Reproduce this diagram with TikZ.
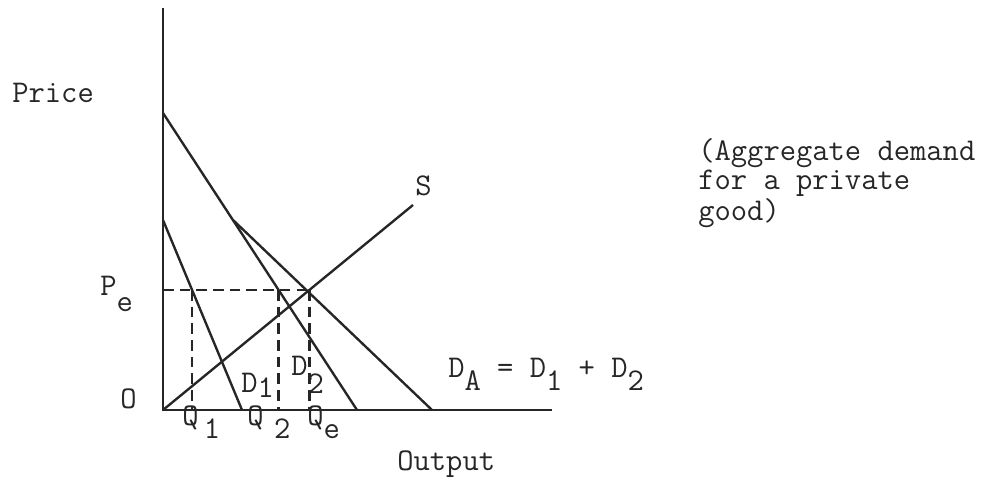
\documentclass[tikz,border=0pt]{standalone}
\usetikzlibrary{calc}
\newcommand{\dn}[2][0.27cm]{\raisebox{-#1}{#2}}

\begin{document}
\begin{tikzpicture}[
    curve/.style={line width=1.35pt, black!85},
    guide/.style={line width=1.25pt, black!85, dash pattern=on 6pt off 3.5pt},
    lbl/.style={font=\ttfamily\fontsize{18}{13.66}\selectfont, inner sep=0pt, anchor=base west, text=black!85}
]
\useasboundingbox (-3.26,-1.38) rectangle (16.84,8.2);

% === OSY ===

\coordinate (O) at (0,0);
\coordinate (ytop) at (0,8.04);
\coordinate (xend) at (7.78,0);
\draw[curve] (ytop) -- (O) -- (xend);

% === KRIVKY ===

\coordinate (d1top) at (0,3.8);
\coordinate (d1end) at (1.58,0);
\coordinate (d2top) at (0,5.94);
\coordinate (d2end) at (3.88,0);
\coordinate (kink) at (1.4,3.8);
\coordinate (daend) at (5.38,0);
\coordinate (send) at (5.0,4.1);

\draw[curve] (d1top) -- (d1end);
\draw[curve] (d2top) -- (d2end);
\draw[curve] (kink) -- (daend);
\draw[curve] (O) -- (send);

% === ROVNOVAHA ===

\coordinate (pe) at (0,2.4);
\coordinate (E) at (2.93,2.4);
\coordinate (q1) at (0.58,2.4);
\coordinate (q2) at (2.31,2.4);

\draw[guide] (pe) -- (E);
\draw[guide] (q1) -- (q1 |- O);
\draw[guide] (q2) -- (q2 |- O);
\draw[guide] (E) -- (E |- O);

% === POPISKY ===

\node[lbl] (price) at (-3.02,6.14) {Price};
\node[lbl] (outp) at (4.68,-1.2) {Output};
\node[lbl] (olbl) at (-0.86,0.04) {O};
\node[lbl] (pelbl) at (-1.26,2.3) {P\dn[0.32cm]{e}};
\node[lbl] (slbl) at (5.04,4.3) {S};
\node[lbl] (q1lbl) at (0.38,-0.3) {Q\,\dn{1}};
\node[lbl] (q2lbl) at (1.68,-0.3) {Q\,\,\dn{2}};
\node[lbl] (qelbl) at (2.88,-0.3) {Q\dn{e}};
\node[lbl] (d1lbl) at (1.56,0.36) {D\dn[0.1cm]{1}};
\node[lbl] (d2lbl) at (2.56,0.7) {D\dn[0.36cm]{2}};
\node[lbl] (dalbl) at (5.7,0.66) {D\dn{A} = D\dn{1} + D\dn{2}};

\node[lbl, align=left] (agg) at (10.7,3.8) {(Aggregate demand\\for a private\\good)};

\end{tikzpicture}
\end{document}
